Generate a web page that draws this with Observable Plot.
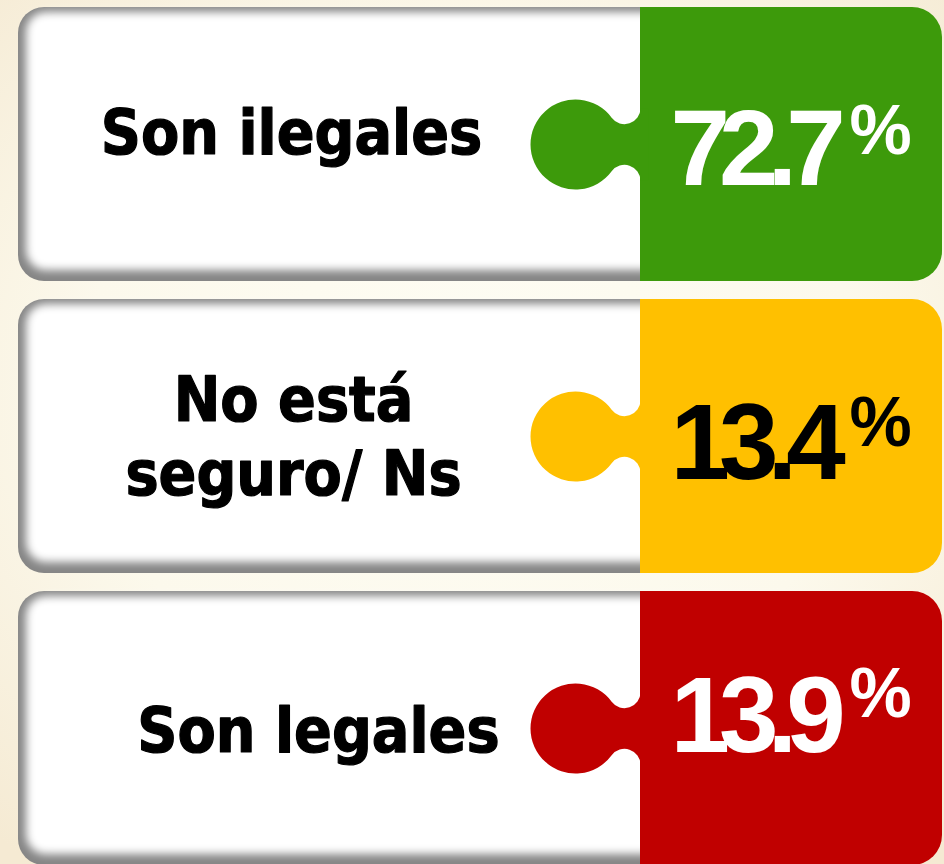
<!DOCTYPE html>
<html>
<head>
<meta charset="utf-8">
<script src="https://cdn.jsdelivr.net/npm/d3@7"></script>
<script src="https://cdn.jsdelivr.net/npm/@observablehq/plot@0.6"></script>
<style>
  html, body { margin: 0; padding: 0; }
  body {
    width: 944px; height: 864px; overflow: hidden;
    background: radial-gradient(ellipse 75% 70% at 50% 45%, #fefdf4 0%, #fcf9ec 55%, #f5ead3 100%);
  }
</style>
</head>
<body>
<div id="chart"></div>
<script>
// ---- data ----
const categories = ["Son ilegales", "No está\nseguro/ Ns", "Son legales"];
const values = [72.7, 13.4, 13.9];
const colors = ["#3d9a0b", "#ffc000", "#c00000"];
const valueInk = ["#ffffff", "#000000", "#ffffff"];
const unit = "%";

const rows = categories.map((c, i) => ({label: c, value: values[i], color: colors[i], ink: valueInk[i]}));

// ---- layout / style (not data) ----
const labelDx = [0, 2, 27];
const labelDy = [-14, -2, 0];
const valueDy = [6, 8, -11];
const unitDy = [-13, -13, -34];

// puzzle knob symbol drawn relative to its centre
const knob = {
  draw(ctx) {
    const R = 45, rf = 16, fx = 49;
    const fy = Math.sqrt((R + rf) ** 2 - fx ** 2);
    const a = Math.atan2(-fy, fx);
    ctx.moveTo(fx + rf, -fy);
    ctx.arc(fx, -fy, rf, 0, a + Math.PI, false);
    ctx.arc(0, 0, R, a, -a, true);
    ctx.arc(fx, fy, rf, -Math.PI - a, 0, false);
    ctx.lineTo(fx + rf + 8, fy);
    ctx.lineTo(fx + rf + 8, -fy);
    ctx.closePath();
  }
};

const labelMarks = rows.map((d, i) =>
  Plot.text([d], {
    y: "label", x: 291, text: "label",
    textAnchor: "middle", lineAnchor: "middle",
    fontSize: 62, fontWeight: "bold", lineHeight: 1.19,
    fontFamily: "'DejaVu Sans Condensed', 'DejaVu Sans', sans-serif",
    fill: "#000", stroke: "#000", strokeWidth: 1.2,
    dx: labelDx[i], dy: labelDy[i]
  })
);
const valueMarks = rows.map((d, i) =>
  Plot.text([d], {
    y: "label", x: 670, text: r => r.value.toFixed(1),
    textAnchor: "start", lineAnchor: "middle",
    fontSize: 107, fontWeight: "bold",
    fontFamily: "'Liberation Sans', Arial, sans-serif",
    fill: "ink", dy: valueDy[i]
  })
);
const unitMarks = rows.map((d, i) =>
  Plot.text([d], {
    y: "label", x: 849, text: () => unit,
    textAnchor: "start", lineAnchor: "middle",
    fontSize: 70, fontWeight: "bold",
    fontFamily: "'Liberation Sans', Arial, sans-serif",
    fill: "ink", dy: unitDy[i]
  })
);

const svg = Plot.plot({
  width: 944, height: 864,
  marginTop: 0, marginRight: 0, marginBottom: 0, marginLeft: 0,
  style: {background: "transparent", overflow: "visible"},
  x: {domain: [0, 944], range: [0, 944], axis: null},
  y: {domain: categories, range: [6, 867], paddingInner: 0.0614, paddingOuter: 0, axis: null},
  color: {type: "identity"},
  marks: [
    Plot.barX(rows, {y: "label", x1: 18, x2: 900, rx: 26, fill: "#868686"}),
    Plot.barX(rows, {y: "label", x1: 26, x2: 900, insetTop: 5, insetBottom: 11, rx: 20, fill: "#ffffff"}),
    Plot.barX(rows, {y: "label", x1: 640, x2: 942, rx: 30, fill: "color"}),
    Plot.barX(rows, {y: "label", x1: 640, x2: 720, fill: "color"}),
    Plot.dot(rows, {y: "label", x: 575, r: 45, symbol: knob, fill: "color", stroke: null}),
    ...labelMarks,
    ...valueMarks,
    ...unitMarks
  ]
});

const s = d3.select(svg);
const NS = "http://www.w3.org/2000/svg";
const defs = document.createElementNS(NS, "defs");
const filter = document.createElementNS(NS, "filter");
filter.setAttribute("id", "soft");
filter.setAttribute("x", "-5%"); filter.setAttribute("y", "-10%");
filter.setAttribute("width", "110%"); filter.setAttribute("height", "120%");
const blur = document.createElementNS(NS, "feGaussianBlur");
blur.setAttribute("stdDeviation", "4");
filter.appendChild(blur);
defs.appendChild(filter);
svg.insertBefore(defs, svg.firstChild);

const bars = s.selectAll('g[aria-label="bar"]').nodes();
d3.select(bars[1]).attr("filter", "url(#soft)");

const texts = s.selectAll('g[aria-label="text"]').nodes();
texts.slice(3, 6).forEach(g => d3.select(g).attr("letter-spacing", -11));

document.getElementById("chart").appendChild(svg);
</script>
</body>
</html>
